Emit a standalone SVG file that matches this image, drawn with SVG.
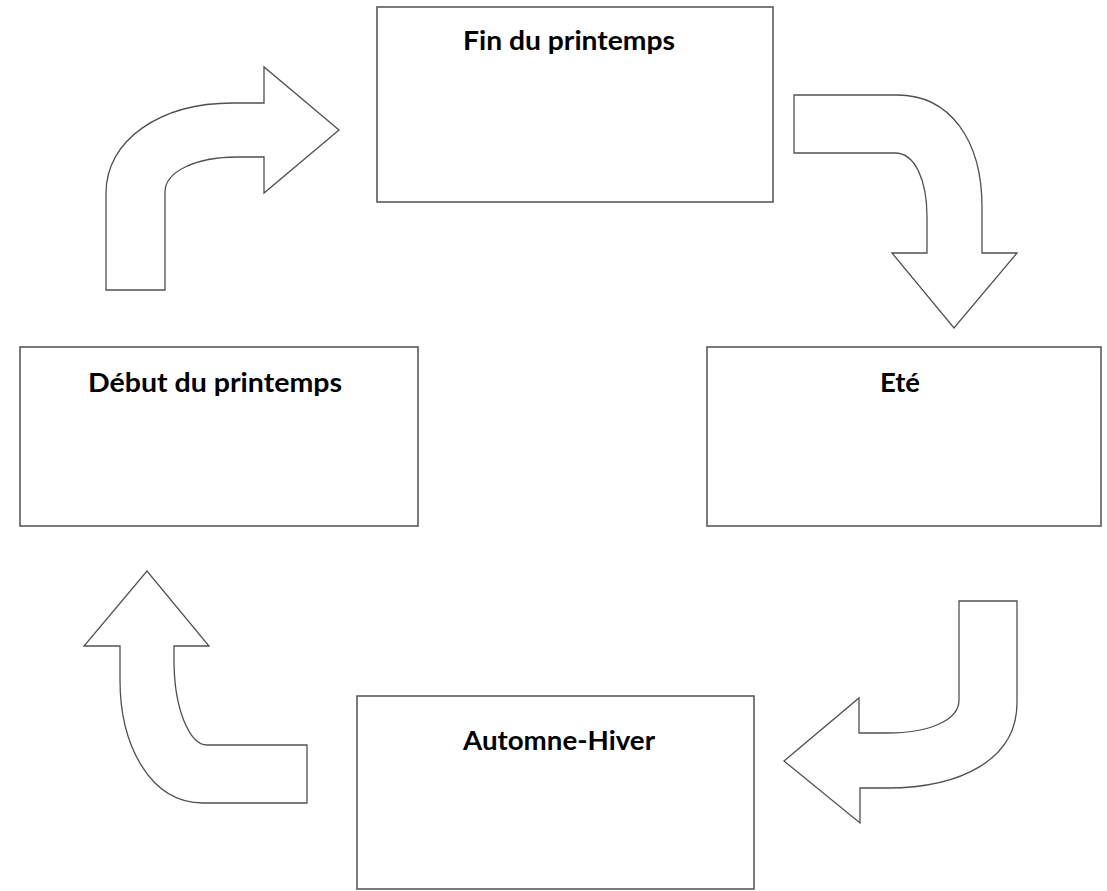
<svg xmlns="http://www.w3.org/2000/svg" width="1107" height="891" viewBox="0 0 1107 891">
<style>
.box{fill:#ffffff;stroke:#5a5a5a;stroke-width:1.6}
.arr{fill:#ffffff;stroke:#505050;stroke-width:1.3;stroke-linejoin:miter}
.lbl{font-family:Lato,"Open Sans","Liberation Sans",sans-serif;font-weight:700;font-size:26px;fill:#000;text-anchor:middle}
</style>
<rect width="1107" height="891" fill="#ffffff"/>
<g id="connectors">
<path id="arrow-debut-fin" class="arr" d="M106,290 L106,193 C106,140 160,103 233,103 L264,103 L264,67 L339,130 L264,193 L264,157 L237,157 C195,157 165,172 165,192 L165,290 Z"/>
<path id="arrow-fin-ete" class="arr" d="M794,95 L897,95 C950,95 982,140 982,207 L982,253 L1017,253 L954,328 L892,253 L927,253 L927,217 C927,180 915,153 895,153 L794,153 Z"/>
<path id="arrow-ete-automne" class="arr" d="M959,601 L1017,601 L1017,703 C1017,760 960,788 887,788 L860,788 L860,823 L784,761 L859,698 L859,733 L887,733 C930,733 959,720 959,700 Z"/>
<path id="arrow-automne-debut" class="arr" d="M307,745 L307,803 L203,803 C150,803 120,745 120,680 L120,646 L84,646 L147,571 L209,646 L174,646 L174,660 C174,710 190,745 207,745 Z"/>
</g>
<g id="node-fin">
<rect class="box" x="377" y="7" width="396" height="195"/>
<text class="lbl" x="569" y="50" textLength="212" lengthAdjust="spacingAndGlyphs">Fin du printemps</text>
</g>
<g id="node-debut">
<rect class="box" x="20" y="347" width="398" height="179"/>
<text class="lbl" x="215" y="392" textLength="254" lengthAdjust="spacingAndGlyphs">Début du printemps</text>
</g>
<g id="node-ete">
<rect class="box" x="707" y="347" width="394" height="179"/>
<text class="lbl" x="900" y="392" textLength="40" lengthAdjust="spacingAndGlyphs">Eté</text>
</g>
<g id="node-automne">
<rect class="box" x="357" y="696" width="397" height="193"/>
<text class="lbl" x="559" y="750" textLength="192" lengthAdjust="spacingAndGlyphs">Automne-Hiver</text>
</g>
</svg>
